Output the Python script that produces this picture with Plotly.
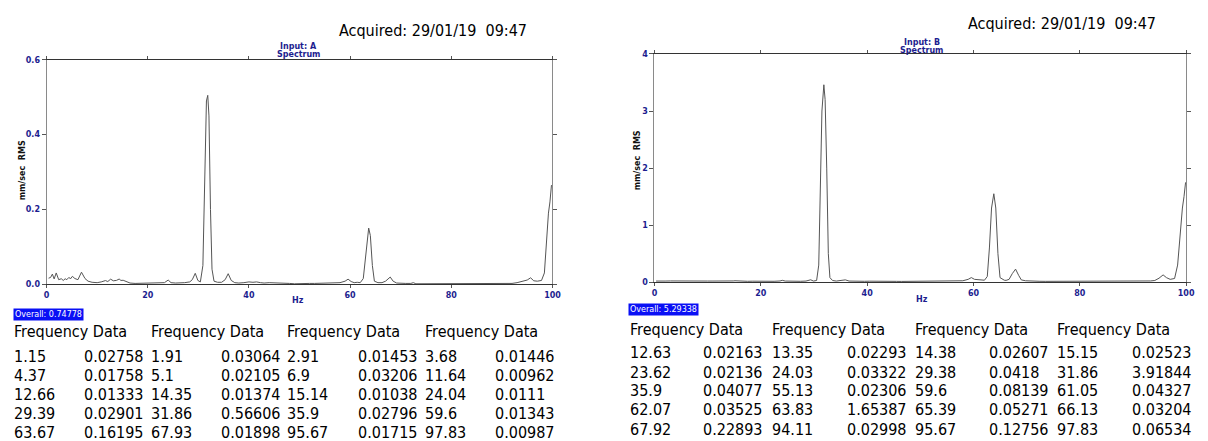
import plotly.graph_objects as go

W, H = 1208, 441

# ---------------- data ----------------
freq_a = [0.4, 0.8, 1.15, 1.5, 1.91, 2.4, 2.91, 3.3, 3.68, 4.0, 4.37, 4.8, 5.1, 5.6, 6.2, 6.9, 7.6, 8.2, 9.0, 10.0,
          10.8, 11.64, 12.1, 12.66, 13.2, 13.8, 14.35, 14.7, 15.14, 15.8, 16.5, 17.5, 19.0, 20.5, 21.5, 22.5, 23.3, 24.04,
          24.6, 25.5, 26.5, 27.3, 28.3, 28.8, 29.39, 29.9, 30.4, 30.9, 31.3, 31.6, 31.86, 32.1, 32.4, 32.7, 33.1, 33.8,
          34.6, 35.3, 35.9, 36.5, 37.2, 38.0, 39.0, 40.0, 40.8, 41.5, 42.3, 43.0, 44.0, 45.0, 46.0, 47.0, 48.0, 49.0,
          50.0, 51.0, 52.0, 53.0, 54.0, 55.0, 56.0, 57.0, 58.0, 59.0, 59.6, 60.2, 60.8, 61.4, 62.0, 62.6, 63.0, 63.4,
          63.67, 64.0, 64.4, 64.8, 65.5, 66.3, 67.0, 67.93, 68.5, 69.2, 70.0, 71.0, 72.0, 72.5, 73.0, 75.0, 78.0, 80.0,
          82.0, 85.0, 88.0, 90.0, 91.0, 92.0, 93.0, 94.0, 95.0, 95.67, 96.3, 97.0, 97.83, 98.4, 98.8, 99.2, 99.5, 99.8]
amp_a = [0.016, 0.018, 0.027, 0.014, 0.030, 0.012, 0.0145, 0.010, 0.0145, 0.012, 0.0176, 0.015, 0.021, 0.015, 0.012,
         0.032, 0.015, 0.008, 0.005, 0.004, 0.006, 0.0096, 0.007, 0.0133, 0.009, 0.010, 0.0137, 0.010, 0.0104, 0.006,
         0.003, 0.002, 0.002, 0.003, 0.002, 0.003, 0.004, 0.011, 0.004, 0.003, 0.003, 0.004, 0.006, 0.012, 0.029, 0.010,
         0.006, 0.050, 0.300, 0.490, 0.505, 0.450, 0.200, 0.040, 0.008, 0.005, 0.005, 0.012, 0.028, 0.010, 0.004, 0.003,
         0.004, 0.006, 0.005, 0.006, 0.004, 0.003, 0.004, 0.004, 0.003, 0.002, 0.002, 0.001, 0.002, 0.001, 0.002, 0.002,
         0.002, 0.002, 0.002, 0.003, 0.004, 0.008, 0.0134, 0.007, 0.004, 0.005, 0.004, 0.015, 0.070, 0.130, 0.150, 0.130,
         0.050, 0.008, 0.004, 0.004, 0.008, 0.019, 0.008, 0.003, 0.002, 0.002, 0.002, 0.004, 0.001, 0.001, 0.001, 0.001,
         0.001, 0.001, 0.001, 0.002, 0.001, 0.002, 0.004, 0.007, 0.011, 0.017, 0.009, 0.008, 0.0099, 0.030, 0.120, 0.190,
         0.220, 0.265]

freq_b = [0.3, 1.0, 2.0, 3.0, 4.0, 5.0, 6.0, 7.0, 8.0, 9.0, 10.0, 11.0, 12.0, 12.63, 13.0, 13.35, 13.8, 14.38, 14.8,
          15.15, 15.8, 16.5, 17.5, 18.5, 19.5, 20.5, 21.5, 22.5, 23.62, 24.03, 24.6, 25.5, 26.5, 27.5, 28.5, 29.38, 29.9,
          30.5, 30.9, 31.2, 31.5, 31.86, 32.1, 32.4, 32.7, 33.0, 33.5, 34.2, 35.0, 35.9, 36.6, 37.5, 38.5, 39.5, 40.5,
          41.5, 42.5, 43.5, 44.5, 45.5, 46.5, 47.5, 48.5, 49.5, 50.5, 51.5, 52.5, 53.5, 54.3, 55.13, 56.0, 57.0, 58.0,
          59.0, 59.6, 60.2, 61.05, 61.5, 62.07, 62.6, 63.0, 63.4, 63.83, 64.2, 64.6, 65.0, 65.39, 65.8, 66.13, 66.7, 67.3,
          67.92, 68.5, 69.0, 69.8, 70.5, 71.5, 72.5, 73.5, 75.0, 76.5, 78.0, 79.5, 81.0, 82.5, 84.0, 85.5, 87.0, 88.5,
          90.0, 91.5, 92.5, 93.3, 94.11, 94.9, 95.67, 96.3, 97.0, 97.83, 98.4, 98.9, 99.3, 99.6, 99.9]
amp_b = [0.020, 0.025, 0.020, 0.022, 0.020, 0.024, 0.020, 0.018, 0.020, 0.022, 0.020, 0.020, 0.018, 0.0216, 0.018,
         0.0229, 0.020, 0.026, 0.022, 0.025, 0.020, 0.018, 0.016, 0.018, 0.016, 0.015, 0.016, 0.016, 0.0214, 0.033,
         0.020, 0.016, 0.015, 0.016, 0.020, 0.042, 0.020, 0.030, 0.300, 1.500, 3.000, 3.460, 3.200, 2.000, 0.500, 0.080,
         0.030, 0.020, 0.025, 0.041, 0.020, 0.016, 0.015, 0.016, 0.018, 0.015, 0.016, 0.015, 0.014, 0.015, 0.014, 0.015,
         0.014, 0.015, 0.014, 0.016, 0.015, 0.016, 0.018, 0.023, 0.018, 0.020, 0.025, 0.050, 0.081, 0.050, 0.043, 0.035,
         0.035, 0.100, 0.600, 1.300, 1.550, 1.300, 0.500, 0.080, 0.053, 0.035, 0.032, 0.050, 0.150, 0.229, 0.120, 0.040,
         0.025, 0.020, 0.018, 0.016, 0.015, 0.015, 0.014, 0.015, 0.014, 0.015, 0.014, 0.015, 0.014, 0.015, 0.016, 0.015,
         0.016, 0.018, 0.022, 0.030, 0.070, 0.128, 0.080, 0.050, 0.065, 0.300, 0.900, 1.300, 1.500, 1.750]

x_ticks = [0, 20, 40, 60, 80, 100]
y_ticks_a = [0.0, 0.2, 0.4, 0.6]
y_ticks_b = [0, 1, 2, 3, 4]

acquired_text = "Acquired: 29/01/19\u00a0\u00a009:47"
input_a = "Input: A"
input_b = "Input: B"
overall_a = "Overall: 0.74778"
overall_b = "Overall: 5.29338"
header_text = "Frequency Data"

table_a_freq = [["1.15", "1.91", "2.91", "3.68"],
                ["4.37", "5.1", "6.9", "11.64"],
                ["12.66", "14.35", "15.14", "24.04"],
                ["29.39", "31.86", "35.9", "59.6"],
                ["63.67", "67.93", "95.67", "97.83"]]
table_a_data = [["0.02758", "0.03064", "0.01453", "0.01446"],
                ["0.01758", "0.02105", "0.03206", "0.00962"],
                ["0.01333", "0.01374", "0.01038", "0.0111"],
                ["0.02901", "0.56606", "0.02796", "0.01343"],
                ["0.16195", "0.01898", "0.01715", "0.00987"]]
table_b_freq = [["12.63", "13.35", "14.38", "15.15"],
                ["23.62", "24.03", "29.38", "31.86"],
                ["35.9", "55.13", "59.6", "61.05"],
                ["62.07", "63.83", "65.39", "66.13"],
                ["67.92", "94.11", "95.67", "97.83"]]
table_b_data = [["0.02163", "0.02293", "0.02607", "0.02523"],
                ["0.02136", "0.03322", "0.0418", "3.91844"],
                ["0.04077", "0.02306", "0.08139", "0.04327"],
                ["0.03525", "1.65387", "0.05271", "0.03204"],
                ["0.22893", "0.02998", "0.12756", "0.06534"]]

# ---------------- layout helpers ----------------
def px(x):
    return x / W

def py(y):
    return 1 - y / H

NAVY = "#1d1d8f"
TICKFONT = dict(family="DejaVu Sans", size=8, color=NAVY, weight="bold")
TABLEFONT = dict(family="DejaVu Sans Condensed, Liberation Sans Narrow, DejaVu Sans", size=16, color="#000000")

fig = go.Figure()
fig.add_trace(go.Scatter(x=freq_a, y=amp_a, mode="lines", line=dict(color="#555555", width=1),
                         xaxis="x", yaxis="y", showlegend=False, hoverinfo="skip"))
fig.add_trace(go.Scatter(x=freq_b, y=amp_b, mode="lines", line=dict(color="#555555", width=1),
                         xaxis="x2", yaxis="y2", showlegend=False, hoverinfo="skip"))

def xaxis(dom, anchor):
    return dict(domain=dom, anchor=anchor, range=[0, 100], tickvals=x_ticks, showgrid=False, zeroline=False,
                showline=True, linecolor="#333333", linewidth=1, mirror="ticks", ticks="outside", ticklen=3,
                tickcolor="#555555", tickfont=TICKFONT, fixedrange=True)

def yaxis(dom, anchor, rng, vals, fmt):
    return dict(domain=dom, anchor=anchor, range=rng, tickvals=vals, tickformat=fmt, showgrid=False,
                zeroline=False, showline=True, linecolor="#8a8a8a", linewidth=1, mirror="ticks",
                ticks="outside", ticklen=4, tickcolor="#555555", tickfont=TICKFONT, fixedrange=True)

fig.update_layout(
    width=W, height=H, margin=dict(l=0, r=0, t=0, b=0),
    paper_bgcolor="white", plot_bgcolor="white",
    xaxis=xaxis([px(44), px(555)], "y"),
    yaxis=yaxis([py(286), py(57)], "x", [0, 0.6], y_ticks_a, ".1f"),
    xaxis2=xaxis([px(658), px(1195)], "y2"),
    yaxis2=yaxis([py(284), py(51)], "x2", [0, 4], y_ticks_b, "d"),
)

ann = []

def text(x, y, t, font, xanchor="left", yanchor="middle", **kw):
    ann.append(dict(x=px(x), y=py(y), xref="paper", yref="paper", text=t, showarrow=False,
                    xanchor=xanchor, yanchor=yanchor, font=font, **kw))

ACQFONT = dict(family="DejaVu Sans Condensed, Liberation Sans Narrow, DejaVu Sans", size=16, color="#000000")
SMALLBOLD = dict(family="DejaVu Sans", size=8, color=NAVY, weight="bold")

# Chart A texts
text(337, 27, acquired_text, ACQFONT)
text(298, 43, input_a, SMALLBOLD, xanchor="center")
text(298, 52, "Spectrum", SMALLBOLD, xanchor="center")
text(298, 303, "Hz", SMALLBOLD, xanchor="center")
text(20, 170, "mm/sec\u00a0\u00a0RMS", dict(family="DejaVu Sans", size=8, color="#111111", weight="bold"),
     xanchor="center", textangle=-90)
text(10, 317, overall_a, dict(family="DejaVu Sans", size=8, color="white"), bgcolor="#0a10f5", borderpad=1)

# Chart B texts
text(973, 20, acquired_text, ACQFONT)
text(928, 39, input_b, SMALLBOLD, xanchor="center")
text(928, 47, "Spectrum", SMALLBOLD, xanchor="center")
text(928, 302, "Hz", SMALLBOLD, xanchor="center")
text(641, 160, "mm/sec\u00a0\u00a0RMS", dict(family="DejaVu Sans", size=8, color="#111111", weight="bold"),
     xanchor="center", textangle=-90)
text(631, 312, overall_b, dict(family="DejaVu Sans", size=8, color="white"), bgcolor="#0a10f5", borderpad=1)

# Tables
def table(head_y, rows_y, fx, dx, freqs, datas):
    for c in range(4):
        text(fx[c], head_y, header_text, TABLEFONT)
    for r in range(5):
        for c in range(4):
            text(fx[c], rows_y[r], freqs[r][c], TABLEFONT)
            text(dx[c], rows_y[r], datas[r][c], TABLEFONT)

table(334, [360, 379, 399, 418, 437], [9, 147, 285, 424], [80, 218, 357, 495], table_a_freq, table_a_data)
table(332, [356, 376, 395, 414, 434], [631, 775, 919, 1063], [705, 850, 994, 1138], table_b_freq, table_b_data)

fig.update_layout(annotations=ann)
fig.write_html("out.html")
